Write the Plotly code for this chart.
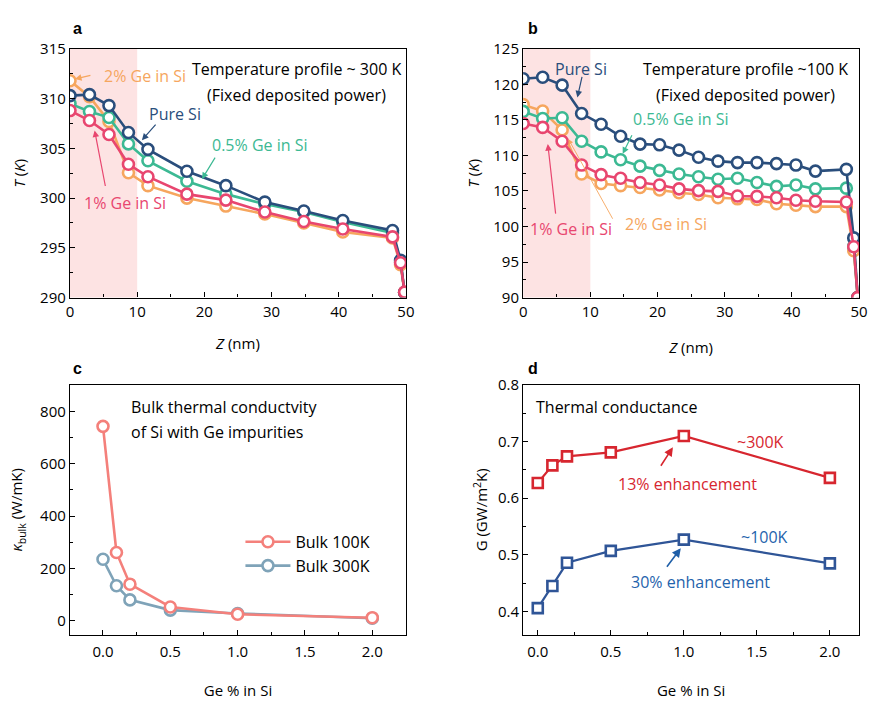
import plotly.graph_objects as go

# ---------------- data ----------------
z_a = [0, 2.9, 5.8, 8.7, 11.6, 17.4, 23.2, 29.0, 34.8, 40.6, 48.0, 49.2, 49.8]
Ta_pure = [310.3, 310.4, 309.3, 306.6, 304.9, 302.7, 301.25, 299.6, 298.7, 297.75, 296.75, 293.75, 290.5]
Ta_05 = [309.5, 308.7, 308.1, 305.45, 303.75, 301.7, 300.4, 299.4, 298.6, 297.6, 296.5, 293.6, 290.5]
Ta_1 = [308.8, 307.8, 306.4, 303.4, 302.15, 300.4, 299.8, 298.6, 297.65, 296.9, 296.1, 293.5, 290.55]
Ta_2 = [311.8, 310.2, 307.7, 302.55, 301.25, 300.0, 299.2, 298.4, 297.5, 296.6, 296.0, 293.3, 290.5]

z_b = [0, 2.9, 5.8, 8.7, 11.6, 14.5, 17.4, 20.3, 23.2, 26.1, 29.0, 31.9, 34.8, 37.7, 40.6, 43.5, 48.1, 49.2, 49.8]
Tb_pure = [120.8, 121.0, 119.9, 115.9, 114.4, 112.7, 111.6, 111.5, 110.75, 109.75, 109.2, 109.0, 109.0, 108.85, 108.65, 107.8, 108.05, 98.4, 90.0]
Tb_05 = [116.2, 115.2, 115.3, 112.0, 110.5, 109.4, 108.5, 107.9, 107.4, 107.0, 106.65, 106.8, 106.2, 105.65, 105.85, 105.3, 105.4, 97.2, 90.0]
Tb_1 = [114.5, 113.95, 112.0, 108.65, 107.3, 106.8, 106.2, 105.85, 105.3, 105.05, 104.95, 104.3, 104.25, 104.05, 103.7, 103.55, 103.45, 97.15, 90.0]
Tb_2 = [117.15, 116.25, 113.6, 107.4, 106.05, 105.75, 105.5, 105.15, 104.75, 104.5, 104.05, 103.9, 103.8, 103.2, 103.0, 102.8, 102.8, 96.6, 90.0]

ge = [0.0, 0.1, 0.2, 0.5, 1.0, 2.0]
k_bulk_100 = [743, 261, 140, 53, 25, 12]
k_bulk_300 = [235, 134, 80, 41, 28, 10]
G_300 = [0.627, 0.658, 0.674, 0.681, 0.710, 0.636]
G_100 = [0.406, 0.445, 0.486, 0.507, 0.527, 0.485]

# ---------------- styles ----------------
C_BLUE = "#2A4E7C"
C_TEAL = "#3CB993"
C_PINK = "#E8466F"
C_ORANGE = "#F6A65E"
C_SALMON = "#F4807B"
C_GREYBLUE = "#7FA3B8"
C_RED = "#D7262F"
C_DBLUE = "#2F5597"
C_TXTBLUE = "#1F63AC"
FONT = "Open Sans"
W, H = 875, 701
ANN_SIZE = 16


def P(px, py):
    return px / W, 1 - py / H


fig = go.Figure()


def circ_trace(x, y, color, xa, ya, name=None, show=False):
    fig.add_trace(go.Scatter(
        x=x, y=y, mode="lines+markers", name=name, showlegend=show,
        line=dict(color=color, width=2.6),
        marker=dict(symbol="circle", size=11, color="white",
                    line=dict(color=color, width=2.6)),
        xaxis=xa, yaxis=ya))


def sq_trace(x, y, color, xa, ya):
    fig.add_trace(go.Scatter(
        x=x, y=y, mode="lines+markers", showlegend=False,
        line=dict(color=color, width=2.2),
        marker=dict(symbol="square", size=10, color="white",
                    line=dict(color=color, width=2.6)),
        xaxis=xa, yaxis=ya))


# panel a
circ_trace(z_a, Ta_2, C_ORANGE, "x", "y")
circ_trace(z_a, Ta_05, C_TEAL, "x", "y")
circ_trace(z_a, Ta_pure, C_BLUE, "x", "y")
circ_trace(z_a, Ta_1, C_PINK, "x", "y")
# panel b
circ_trace(z_b, Tb_2, C_ORANGE, "x2", "y2")
circ_trace(z_b, Tb_05, C_TEAL, "x2", "y2")
circ_trace(z_b, Tb_pure, C_BLUE, "x2", "y2")
circ_trace(z_b, Tb_1, C_PINK, "x2", "y2")
# panel c
circ_trace(ge, k_bulk_300, C_GREYBLUE, "x3", "y3", name="Bulk 300K", show=True)
circ_trace(ge, k_bulk_100, C_SALMON, "x3", "y3", name="Bulk 100K", show=True)
# panel d
sq_trace(ge, G_300, C_RED, "x4", "y4")
sq_trace(ge, G_100, C_DBLUE, "x4", "y4")

# shaded regions (0-10 nm)
for xr, yr in (("x", "y"), ("x2", "y2")):
    fig.add_shape(type="rect", xref=xr, yref=yr + " domain", x0=0, x1=10, y0=0, y1=1,
                  fillcolor="#FDE3E3", line=dict(width=0), layer="below")

dom_x1 = [67 / W, 408 / W]
dom_x2 = [527 / W, 868 / W]
dom_top = [1 - 295 / H, 1 - 39 / H]
dom_bot = [1 - 642 / H, 1 - 385 / H]

tickfont = dict(family=FONT, size=15, color="black")
titlefont = dict(family=FONT, size=15, color="black")


def ax(domain, rng, dtick, minor_dtick, anchor, title, standoff, tickformat=None, tick0=None, tls=0):
    d = dict(domain=domain, range=rng, dtick=dtick, anchor=anchor,
             showline=True, linecolor="black", linewidth=1.3, mirror=True,
             ticks="inside", ticklen=5, tickwidth=1.2, tickcolor="black",
             minor=dict(dtick=minor_dtick, ticks="inside", ticklen=3, tickwidth=1, tickcolor="black"),
             showgrid=False, zeroline=False, tickfont=tickfont, ticklabelstandoff=tls,
             title=dict(text=title, font=titlefont, standoff=standoff))
    if tickformat:
        d["tickformat"] = tickformat
    if tick0 is not None:
        d["tick0"] = tick0
    return d


fig.update_layout(
    width=W, height=H, margin=dict(l=0, r=0, t=0, b=0),
    paper_bgcolor="white", plot_bgcolor="white",
    font=dict(family=FONT, color="black"),
    xaxis=ax(dom_x1, [0, 50], 10, 5, "y", "<i>Z</i> (nm)", 18),
    yaxis=ax(dom_top, [290, 315], 5, 2.5, "x", "<i>T</i> (<i>K</i>)", 10),
    xaxis2=ax(dom_x2, [0, 50], 10, 5, "y2", "<i>Z</i> (nm)", 22),
    yaxis2=ax(dom_top, [90, 125], 5, 2.5, "x2", "<i>T</i> (<i>K</i>)", 10),
    xaxis3=ax(dom_x1, [-0.245, 2.25], 0.5, 0.25, "y3", "Ge % in Si", 25, ".1f", 0, 3),
    yaxis3=ax(dom_bot, [-53, 901], 200, 100, "x3", "<i>κ</i><sub>bulk</sub> (W/mK)", 13, None, 0),
    xaxis4=ax(dom_x2, [-0.1, 2.2], 0.5, 0.25, "y4", "Ge % in Si", 25, ".1f", 0, 3),
    yaxis4=ax(dom_bot, [0.359, 0.8], 0.1, 0.05, "x4", "G (GW/m<sup>2</sup>K)", 6, ".1f", 0.4),
    legend=dict(x=240 / W, y=1 - 529 / H, xanchor="left", yanchor="top",
                traceorder="reversed", font=dict(family=FONT, size=16, color="black"),
                bgcolor="rgba(0,0,0,0)", itemwidth=45, tracegroupgap=2),
)

ann = []


def text(px, py, s, color="black", size=ANN_SIZE, xanchor="center", bold=False):
    x, y = P(px, py)
    if bold:
        s = "<b>" + s + "</b>"
    ann.append(dict(x=x, y=y, xref="paper", yref="paper", text=s, showarrow=False,
                    xanchor=xanchor, yanchor="middle",
                    font=dict(family=FONT if not bold else "Liberation Sans", size=size, color=color)))


def arrow(tx, ty, hx, hy, color, width=1.2):
    x, y = P(hx, hy)
    ann.append(dict(x=x, y=y, xref="paper", yref="paper", text="", showarrow=True,
                    ax=tx - hx, ay=ty - hy, arrowhead=2, arrowsize=1.1, arrowwidth=width,
                    arrowcolor=color))


# panel letters
text(75, 18, "a", size=16, bold=True)
text(537, 18, "b", size=16, bold=True)
text(75, 368, "c", size=16, bold=True)
text(537, 368, "d", size=16, bold=True)

# panel a
text(297, 60, "Temperature profile ~ 300 K")
text(297, 86, "(Fixed deposited power)")
text(143, 67, "2% Ge in Si", C_ORANGE)
arrow(89, 66, 72, 70, C_ORANGE)
text(174, 106, "Pure Si", C_BLUE)
arrow(155, 116, 140, 133, C_BLUE)
text(259, 138, "0.5% Ge in Si", C_TEAL)
arrow(215, 150, 201, 173, C_TEAL)
text(123, 198, "1% Ge in Si", C_PINK)
arrow(103, 180, 92, 123, C_PINK)

# panel b
text(753, 60, "Temperature profile ~100 K")
text(753, 86, "(Fixed deposited power)")
text(586, 60, "Pure Si", C_BLUE)
arrow(587, 67, 582, 89, C_BLUE)
text(687, 111, "0.5% Ge in Si", C_TEAL)
arrow(638, 127, 628, 147, C_TEAL)
text(576, 224, "1% Ge in Si", C_PINK)
arrow(560, 208, 552, 137, C_PINK)
text(672, 219, "2% Ge in Si", C_ORANGE)
arrow(618, 213, 573, 132, C_ORANGE, 0.9)

# panel c
text(127, 408, "Bulk thermal conductvity", xanchor="left")
text(127, 433, "of Si with Ge impurities", xanchor="left")

# panel d
text(538, 408, "Thermal conductance", xanchor="left")
text(768, 444, "~300K", C_RED)
text(694, 487, "13% enhancement", C_RED)
arrow(666, 469, 679, 449, C_RED, 1.6)
text(772, 541, "~100K", C_TXTBLUE)
text(707, 588, "30% enhancement", C_TXTBLUE)
arrow(672, 573, 687, 553, "#1F5FA8", 1.6)

fig.update_layout(annotations=ann)
fig.write_html("out.html")
